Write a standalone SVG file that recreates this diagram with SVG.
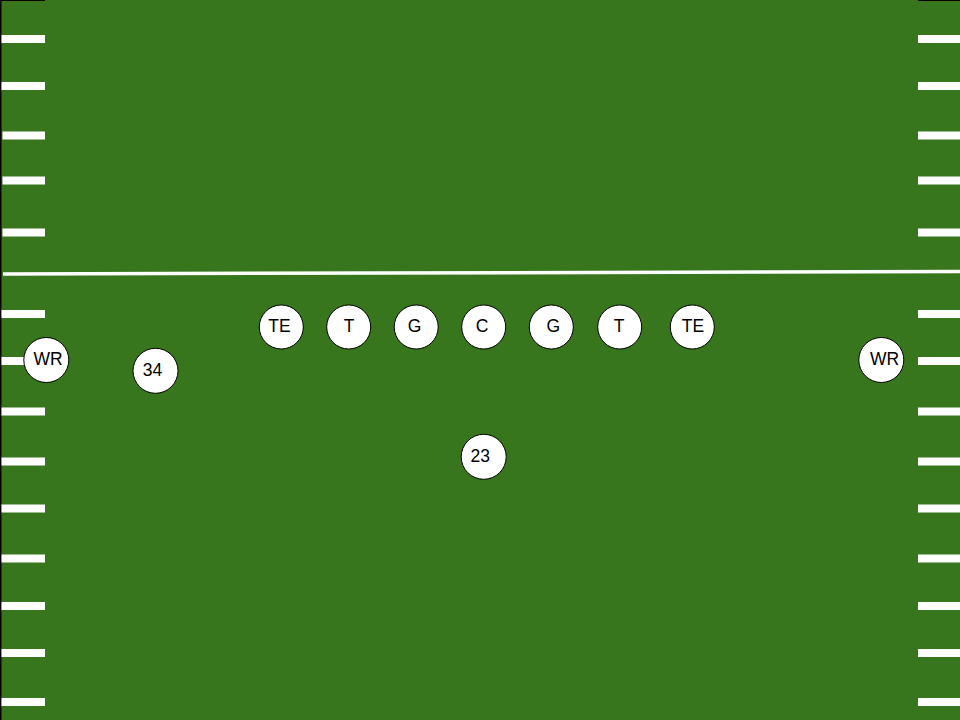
<svg xmlns="http://www.w3.org/2000/svg" width="960" height="720" viewBox="0 0 960 720">
  <style>
    .hash { fill: #ffffff; }
    .player circle { fill: #ffffff; stroke: #000000; stroke-width: 1; }
    .player text { font-family: "Liberation Sans", Arial, sans-serif; font-size: 17.5px; fill: #000000; text-anchor: middle; }
  </style>
  <g id="field">
    <rect x="0" y="0" width="960" height="720" fill="#38761d"/>
    <rect x="0" y="0" width="1.5" height="720" fill="#000000"/>
    <rect x="0" y="0" width="45" height="1" fill="#000000"/>
    <rect x="918" y="0" width="42" height="1" fill="#000000"/>
  </g>
  <g id="hash-left">
    <rect class="hash" x="1.5" y="35" width="43.5" height="8"/>
    <rect class="hash" x="1.5" y="82" width="43.5" height="8"/>
    <rect class="hash" x="2.5" y="131.5" width="42.5" height="8"/>
    <rect class="hash" x="2.5" y="176.5" width="42.5" height="8"/>
    <rect class="hash" x="2.5" y="228.5" width="42.5" height="8"/>
    <rect class="hash" x="1.5" y="310" width="43.5" height="8"/>
    <rect class="hash" x="1.5" y="357" width="43.5" height="8"/>
    <rect class="hash" x="1.5" y="407.5" width="43.5" height="8"/>
    <rect class="hash" x="1.5" y="457.5" width="43.5" height="8"/>
    <rect class="hash" x="1.5" y="504.5" width="43.5" height="8"/>
    <rect class="hash" x="1.5" y="554.5" width="43.5" height="8"/>
    <rect class="hash" x="1.5" y="602" width="43.5" height="8"/>
    <rect class="hash" x="1.5" y="649" width="43.5" height="8"/>
    <rect class="hash" x="1.5" y="698" width="43.5" height="8"/>
  </g>
  <g id="hash-right">
    <rect class="hash" x="918" y="35" width="42" height="8"/>
    <rect class="hash" x="918" y="82" width="42" height="8"/>
    <rect class="hash" x="918" y="131.5" width="42" height="8"/>
    <rect class="hash" x="918" y="176.5" width="42" height="8"/>
    <rect class="hash" x="918" y="228.5" width="42" height="8"/>
    <rect class="hash" x="918" y="310" width="42" height="8"/>
    <rect class="hash" x="918" y="357" width="42" height="8"/>
    <rect class="hash" x="918" y="407.5" width="42" height="8"/>
    <rect class="hash" x="918" y="457.5" width="42" height="8"/>
    <rect class="hash" x="918" y="504.5" width="42" height="8"/>
    <rect class="hash" x="918" y="554.5" width="42" height="8"/>
    <rect class="hash" x="918" y="602" width="42" height="8"/>
    <rect class="hash" x="918" y="649" width="42" height="8"/>
    <rect class="hash" x="918" y="698" width="42" height="8"/>
  </g>
  <g id="connectors">
    <line id="line-of-scrimmage" x1="3" y1="274" x2="960" y2="271.5" stroke="#ffffff" stroke-width="3.5"/>
  </g>
  <g id="te-left" class="player"><circle cx="281.3" cy="327" r="22"/><text x="279.5" y="332.3">TE</text></g>
  <g id="t-left" class="player"><circle cx="348.7" cy="327" r="22"/><text x="349.2" y="332.3">T</text></g>
  <g id="g-left" class="player"><circle cx="416.2" cy="327" r="22"/><text x="414.5" y="332.3">G</text></g>
  <g id="c" class="player"><circle cx="483.7" cy="327" r="22"/><text x="482" y="332.3">C</text></g>
  <g id="g-right" class="player"><circle cx="551.3" cy="327" r="22"/><text x="553.3" y="332.3">G</text></g>
  <g id="t-right" class="player"><circle cx="619.7" cy="327" r="22"/><text x="619.2" y="332.3">T</text></g>
  <g id="te-right" class="player"><circle cx="692.3" cy="327" r="22"/><text x="693" y="332.3">TE</text></g>
  <g id="wr-left" class="player"><circle cx="46.3" cy="360" r="22.5"/><text x="48" y="364.5">WR</text></g>
  <g id="wr-right" class="player"><circle cx="881.3" cy="360" r="22.5"/><text x="884.5" y="364.5">WR</text></g>
  <g id="rb-34" class="player"><circle cx="155.5" cy="370.8" r="22.5"/><text x="152.5" y="376">34</text></g>
  <g id="qb-23" class="player"><circle cx="483.7" cy="456.8" r="22.5"/><text x="480.3" y="462">23</text></g>
</svg>
